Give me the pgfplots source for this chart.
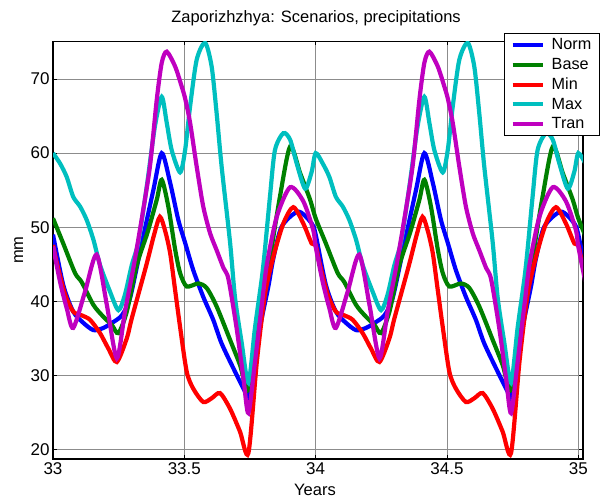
\documentclass[border=0pt]{standalone}
\usepackage{fontspec}
\setmainfont{Liberation Sans}
\usepackage{pgfplots}
\pgfplotsset{compat=1.18}
\definecolor{mblue}{rgb}{0,0,1}
\definecolor{mgreen}{rgb}{0,0.5,0}
\definecolor{mred}{rgb}{1,0,0}
\definecolor{mcyan}{rgb}{0,0.75,0.75}
\definecolor{mmag}{rgb}{0.75,0,0.75}
\definecolor{gridgray}{rgb}{0.55,0.55,0.55}
\begin{document}
\begin{tikzpicture}[x=1pt,y=1pt]
\useasboundingbox (0,0) rectangle (601,501);
\begin{axis}[
  at={(53pt,42pt)}, anchor=south west,
  width=530pt, height=417.7pt, scale only axis,
  xmin=33, xmax=35.018, ymin=18.7, ymax=75.1,
  xtick={33,33.5,34,34.5,35}, xticklabels={33,33.5,34,34.5,35},
  ytick={20,30,40,50,60,70}, yticklabels={20,30,40,50,60,70},
  tick label style={font=\fontsize{17}{20}\selectfont},
  tick align=inside, major tick length=4pt,
  tick style={black, line width=0.8pt},
  axis line style={black, line width=1.2pt},
  grid=major, major grid style={gridgray, line width=0.7pt},
  title={Zaporizhzhya: Scenarios, precipitations},
  title style={at={(axis description cs:0.5,1)}, anchor=base, yshift=13pt, xshift=-2pt, font=\fontsize{16.5}{19}\selectfont},
  xlabel={Years},
  xlabel style={at={(axis description cs:0.5,0)}, anchor=base, yshift=-36pt, xshift=-3pt, font=\fontsize{16.5}{19}\selectfont},
  ylabel={mm},
  ylabel style={at={(axis description cs:-0.0566,0.5)}, anchor=base, font=\fontsize{16.5}{19}\selectfont},
  legend style={at={(axis description cs:1.032,1.020)}, anchor=north east, draw=black, line width=1.3pt, fill=white,
    font=\fontsize{16.2}{19}\selectfont, inner xsep=6pt, inner ysep=3pt, row sep=3pt, column sep=5pt},
  legend cell align=left,
  legend image code/.code={\draw[#1, line width=4pt] (0pt,0pt) -- (30pt,0pt);},
  every axis plot/.append style={line width=4.2pt, smooth, tension=0.45},
]
% Norm
\addplot[mblue] coordinates {
(33.000,49.0)(33.039,42.2)(33.077,38.6)(33.115,37.1)(33.154,36.1)(33.192,36.4)(33.230,37.2)(33.262,38.1)(33.293,40.4)(33.335,47.3)(33.382,55.0)(33.414,60.0)(33.446,56.0)(33.477,51.0)(33.503,47.9)(33.534,44.2)(33.572,40.6)(33.610,37.5)(33.642,34.3)(33.693,30.5)(33.738,27.3)(33.745,27.0)(33.788,36.4)(33.820,42.0)(33.839,45.8)(33.871,50.1)(33.934,52.1)(33.985,50.5)
(34.000,49.0)(34.039,42.2)(34.077,38.6)(34.115,37.1)(34.154,36.1)(34.192,36.4)(34.230,37.2)(34.262,38.1)(34.293,40.4)(34.335,47.3)(34.382,55.0)(34.414,60.0)(34.446,56.0)(34.477,51.0)(34.503,47.9)(34.534,44.2)(34.572,40.6)(34.610,37.5)(34.642,34.3)(34.693,30.5)(34.738,27.3)(34.745,27.0)(34.788,36.4)(34.820,42.0)(34.839,45.8)(34.871,50.1)(34.934,52.1)(34.985,50.5)
(35.000,49.0)(35.039,42.2)
};
\addlegendentry{Norm}
% Base
\addplot[mgreen] coordinates {
(33.000,51.2)(33.039,47.8)(33.084,43.8)(33.109,42.6)(33.154,39.5)(33.192,37.9)(33.224,36.8)(33.249,35.7)(33.281,38.6)(33.319,44.9)(33.360,49.3)(33.395,53.7)(33.414,56.4)(33.439,52.8)(33.465,47.0)(33.484,43.8)(33.509,42.0)(33.553,42.4)(33.585,41.8)(33.623,39.3)(33.674,34.8)(33.712,31.4)(33.744,28.0)(33.782,36.4)(33.814,43.1)(33.826,45.8)(33.864,54.1)(33.903,60.9)(33.941,57.3)(33.979,53.7)
(34.000,51.2)(34.039,47.8)(34.084,43.8)(34.109,42.6)(34.154,39.5)(34.192,37.9)(34.224,36.8)(34.249,35.7)(34.281,38.6)(34.319,44.9)(34.360,49.3)(34.395,53.7)(34.414,56.4)(34.439,52.8)(34.465,47.0)(34.484,43.8)(34.509,42.0)(34.553,42.4)(34.585,41.8)(34.623,39.3)(34.674,34.8)(34.712,31.4)(34.744,28.0)(34.782,36.4)(34.814,43.1)(34.826,45.8)(34.864,54.1)(34.903,60.9)(34.941,57.3)(34.979,53.7)
(35.000,51.2)(35.039,47.8)
};
\addlegendentry{Base}
% Min
\addplot[mred] coordinates {
(33.000,47.6)(33.014,45.3)(33.046,40.9)(33.077,38.6)(33.109,38.1)(33.141,37.5)(33.179,35.7)(33.211,33.6)(33.243,31.8)(33.281,35.0)(33.300,37.7)(33.354,44.7)(33.385,49.0)(33.407,51.4)(33.427,49.5)(33.446,46.5)(33.465,41.5)(33.484,36.5)(33.509,30.5)(33.534,28.2)(33.572,26.4)(33.604,26.9)(33.636,27.6)(33.674,25.5)(33.712,22.4)(33.744,19.5)(33.776,31.8)(33.807,40.9)(33.839,46.0)(33.877,50.5)(33.915,52.7)(33.953,50.5)(33.985,47.8)
(34.000,47.6)(34.014,45.3)(34.046,40.9)(34.077,38.6)(34.109,38.1)(34.141,37.5)(34.179,35.7)(34.211,33.6)(34.243,31.8)(34.281,35.0)(34.300,37.7)(34.354,44.7)(34.385,49.0)(34.407,51.4)(34.427,49.5)(34.446,46.5)(34.465,41.5)(34.484,36.5)(34.509,30.5)(34.534,28.2)(34.572,26.4)(34.604,26.9)(34.636,27.6)(34.674,25.5)(34.712,22.4)(34.744,19.5)(34.776,31.8)(34.807,40.9)(34.839,46.0)(34.877,50.5)(34.915,52.7)(34.953,50.5)(34.985,47.8)
(35.000,47.6)(35.014,45.3)(35.046,40.9)
};
\addlegendentry{Min}
% Max
\addplot[mcyan] coordinates {
(33.000,60.0)(33.027,58.6)(33.052,56.8)(33.077,54.1)(33.103,52.8)(33.128,51.0)(33.154,48.3)(33.179,44.9)(33.217,41.3)(33.249,38.8)(33.274,40.9)(33.300,44.9)(33.325,48.0)(33.357,55.5)(33.388,63.6)(33.414,67.6)(33.433,64.1)(33.452,60.4)(33.484,57.4)(33.503,60.4)(33.522,66.3)(33.547,72.6)(33.579,74.9)(33.604,71.7)(33.623,65.4)(33.642,58.2)(33.674,48.0)(33.693,40.5)(33.718,34.5)(33.744,29.0)(33.769,36.4)(33.795,43.1)(33.807,47.0)(33.826,54.1)(33.845,60.4)(33.877,62.7)(33.903,61.8)(33.928,58.6)(33.960,55.2)(33.985,57.5)
(34.000,60.0)(34.027,58.6)(34.052,56.8)(34.077,54.1)(34.103,52.8)(34.128,51.0)(34.154,48.3)(34.179,44.9)(34.217,41.3)(34.249,38.8)(34.274,40.9)(34.300,44.9)(34.325,48.0)(34.357,55.5)(34.388,63.6)(34.414,67.6)(34.433,64.1)(34.452,60.4)(34.484,57.4)(34.503,60.4)(34.522,66.3)(34.547,72.6)(34.579,74.9)(34.604,71.7)(34.623,65.4)(34.642,58.2)(34.674,48.0)(34.693,40.5)(34.718,34.5)(34.744,29.0)(34.769,36.4)(34.795,43.1)(34.807,47.0)(34.826,54.1)(34.845,60.4)(34.877,62.7)(34.903,61.8)(34.928,58.6)(34.960,55.2)(34.985,57.5)
(35.000,60.0)(35.027,58.6)
};
\addlegendentry{Max}
% Tran
\addplot[mmag] coordinates {
(33.000,47.4)(33.027,42.6)(33.052,39.1)(33.077,36.4)(33.122,41.3)(33.166,46.3)(33.205,39.5)(33.243,32.3)(33.274,38.6)(33.306,44.5)(33.335,50.5)(33.369,58.2)(33.395,67.2)(33.414,72.2)(33.433,73.7)(33.465,71.7)(33.490,69.0)(33.503,67.4)(33.522,64.1)(33.547,58.2)(33.572,52.8)(33.598,49.2)(33.623,46.9)(33.649,44.5)(33.668,43.0)(33.699,36.4)(33.725,29.6)(33.744,24.9)(33.769,31.8)(33.795,39.5)(33.814,44.9)(33.852,51.4)(33.903,55.4)(33.953,53.5)(33.991,49.6)
(34.000,47.4)(34.027,42.6)(34.052,39.1)(34.077,36.4)(34.122,41.3)(34.166,46.3)(34.205,39.5)(34.243,32.3)(34.274,38.6)(34.306,44.5)(34.335,50.5)(34.369,58.2)(34.395,67.2)(34.414,72.2)(34.433,73.7)(34.465,71.7)(34.490,69.0)(34.503,67.4)(34.522,64.1)(34.547,58.2)(34.572,52.8)(34.598,49.2)(34.623,46.9)(34.649,44.5)(34.668,43.0)(34.699,36.4)(34.725,29.6)(34.744,24.9)(34.769,31.8)(34.795,39.5)(34.814,44.9)(34.852,51.4)(34.903,55.4)(34.953,53.5)(34.991,49.6)
(35.000,47.4)(35.027,42.6)
};
\addlegendentry{Tran}
\end{axis}
\end{tikzpicture}
\end{document}
